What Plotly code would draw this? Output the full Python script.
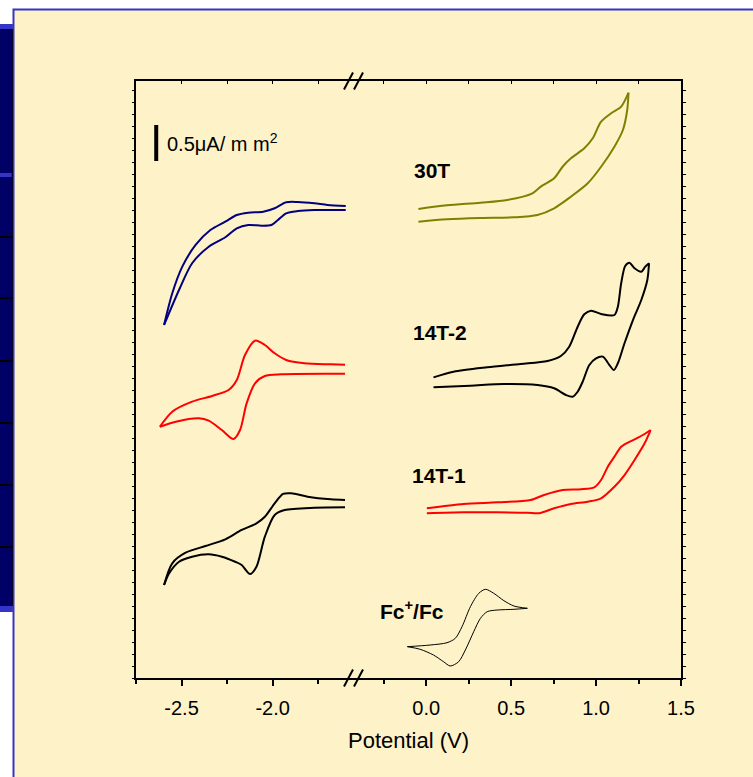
import plotly.graph_objects as go

# ---------------- data (potential in V, current in uA/mm^2 incl. vertical offset) -------------
# left panel (reduction region)
blue_a_x = [-2.596, -2.551, -2.496, -2.423, -2.342, -2.260, -2.197, -2.134, -2.052, -1.989, -1.926, -1.862, -1.771, -1.699, -1.599]
blue_a_y = [4.903, 5.343, 5.713, 6.014, 6.222, 6.338, 6.431, 6.463, 6.476, 6.524, 6.607, 6.611, 6.593, 6.569, 6.556]
blue_b_x = [-2.596, -2.514, -2.442, -2.351, -2.260, -2.197, -2.134, -2.061, -2.007, -1.971, -1.926, -1.862, -1.771, -1.599]
blue_b_y = [4.903, 5.389, 5.760, 5.990, 6.121, 6.246, 6.292, 6.282, 6.292, 6.361, 6.454, 6.486, 6.500, 6.500]

redL_a_x = [-2.619, -2.551, -2.442, -2.333, -2.242, -2.197, -2.152, -2.097, -2.043, -1.989, -1.926, -1.826, -1.681, -1.603]
redL_a_y = [3.490, 3.699, 3.838, 3.917, 4.000, 4.139, 4.486, 4.685, 4.625, 4.510, 4.417, 4.371, 4.357, 4.351]
redL_b_x = [-2.619, -2.532, -2.405, -2.351, -2.279, -2.215, -2.179, -2.143, -2.097, -2.043, -1.953, -1.681, -1.603]
redL_b_y = [3.490, 3.560, 3.607, 3.574, 3.444, 3.319, 3.444, 3.815, 4.093, 4.194, 4.218, 4.226, 4.226]

blkL_a_x = [-2.596, -2.551, -2.478, -2.369, -2.260, -2.170, -2.089, -2.043, -1.989, -1.943, -1.898, -1.808, -1.681, -1.603]
blkL_a_y = [1.292, 1.593, 1.740, 1.833, 1.926, 2.056, 2.149, 2.240, 2.426, 2.556, 2.565, 2.518, 2.482, 2.472]
blkL_b_x = [-2.596, -2.568, -2.514, -2.442, -2.351, -2.279, -2.206, -2.170, -2.124, -2.089, -2.043, -1.989, -1.934, -1.771, -1.603]
blkL_b_y = [1.292, 1.454, 1.615, 1.685, 1.718, 1.685, 1.615, 1.569, 1.444, 1.546, 1.963, 2.264, 2.333, 2.365, 2.371]

# right panel (oxidation region)
t30_a_x = [-0.0456, 0.1225, 0.3195, 0.4775, 0.6254, 0.6746, 0.7533, 0.8030, 0.8521, 0.9308, 0.9805, 1.0296, 1.0888, 1.1479, 1.1911]
t30_a_y = [6.514, 6.565, 6.601, 6.639, 6.732, 6.824, 6.940, 7.101, 7.218, 7.357, 7.496, 7.726, 7.843, 7.935, 8.129]
t30_b_x = [1.1911, 1.1834, 1.158, 1.108, 1.0296, 0.951, 0.8521, 0.7533, 0.655, 0.5166, 0.3195, 0.1225, -0.0456]
t30_b_y = [8.129, 7.889, 7.611, 7.379, 7.101, 6.871, 6.685, 6.524, 6.431, 6.399, 6.389, 6.371, 6.338]

t142_a_x = [0.0432, 0.1615, 0.3592, 0.5562, 0.7142, 0.7929, 0.8420, 0.8917, 0.9308, 0.9704, 1.0296, 1.1083, 1.1284, 1.1479, 1.1716, 1.1970, 1.2266, 1.2663, 1.2899, 1.3118]
t142_a_y = [4.176, 4.254, 4.315, 4.361, 4.403, 4.472, 4.601, 4.879, 5.051, 5.101, 5.056, 5.042, 5.157, 5.482, 5.722, 5.768, 5.690, 5.643, 5.713, 5.760]
t142_b_x = [1.3118, 1.3018, 1.2663, 1.2172, 1.1675, 1.1284, 1.1047, 1.0787, 1.0396, 1.0000, 0.9604, 0.9213, 0.8917, 0.8621, 0.8225, 0.7533, 0.6550, 0.4574, 0.2604, 0.0432]
t142_b_y = [5.760, 5.528, 5.250, 4.972, 4.649, 4.371, 4.278, 4.347, 4.463, 4.440, 4.347, 4.115, 3.976, 3.907, 3.931, 4.024, 4.069, 4.083, 4.060, 4.038]

t141_a_x = [0.0041, 0.2207, 0.4183, 0.6154, 0.6941, 0.8030, 0.9112, 0.9899, 1.0296, 1.0692, 1.1083, 1.1479, 1.2266, 1.2858, 1.3213]
t141_a_y = [2.357, 2.417, 2.440, 2.472, 2.542, 2.611, 2.621, 2.649, 2.750, 2.935, 3.074, 3.213, 3.315, 3.389, 3.444]
t141_b_x = [1.3213, 1.2858, 1.2266, 1.1675, 1.1083, 1.0296, 0.9509, 0.8521, 0.7533, 0.6645, 0.5959, 0.4183, 0.2207, 0.0041]
t141_b_y = [3.444, 3.260, 3.028, 2.819, 2.657, 2.496, 2.449, 2.417, 2.357, 2.288, 2.296, 2.301, 2.301, 2.288]

fc_a_x = [-0.1107, 0.0237, 0.1225, 0.1716, 0.2112, 0.2604, 0.3095, 0.3491, 0.3982, 0.4574, 0.5166, 0.5959]
fc_a_y = [0.435, 0.458, 0.490, 0.551, 0.713, 0.990, 1.176, 1.232, 1.176, 1.074, 1.000, 0.968]
fc_b_x = [0.5959, 0.5166, 0.4183, 0.3592, 0.3195, 0.2799, 0.2308, 0.1911, 0.1420, 0.1024, 0.0432, -0.0355, -0.1107]
fc_b_y = [0.968, 0.954, 0.944, 0.921, 0.829, 0.643, 0.389, 0.226, 0.167, 0.226, 0.319, 0.399, 0.435]

# scale bar: 0.5 uA/mm^2
scale_x = [-2.639, -2.639]
scale_y = [7.181, 7.681]

left_ticks = [-2.5, -2.0]
left_ticktext = ["-2.5", "-2.0"]
left_minor = [-2.75, -2.25, -1.75]
right_ticks = [0.0, 0.5, 1.0, 1.5]
right_ticktext = ["0.0", "0.5", "1.0", "1.5"]
right_minor = [-0.25, 0.25, 0.75, 1.25]

curve_labels = ["30T", "14T-2", "14T-1", "Fc<sup>+</sup>/Fc"]

# ---------------- figure ----------------
W, H = 753, 777
ML, MR, MT, MB = 136, 72, 81, 99
PW, PH = W - ML - MR, H - MT - MB
BREAK = 0.3996
XL_RANGE = [-2.75, -1.555]
XR_RANGE = [-0.426, 1.5]
Y_RANGE = [0, 8.2917]
FONT = "Liberation Sans, Arial, sans-serif"


def px(p):
    return (p - ML) / PW


def py(p):
    return (H - MB - p) / PH


fig = go.Figure()


def add_curve(xa, ya, xb, yb, color, width, xaxis, yaxis):
    for xs, ys in ((xa, ya), (xb, yb)):
        fig.add_trace(go.Scatter(x=xs, y=ys, mode="lines", xaxis=xaxis, yaxis=yaxis,
                                 line=dict(color=color, width=width, shape="spline", smoothing=0.8),
                                 hoverinfo="skip", showlegend=False))


add_curve(blue_a_x, blue_a_y, blue_b_x, blue_b_y, "#000080", 2, "x", "y")
add_curve(redL_a_x, redL_a_y, redL_b_x, redL_b_y, "#FF0000", 2, "x", "y")
add_curve(blkL_a_x, blkL_a_y, blkL_b_x, blkL_b_y, "#000000", 2, "x", "y")
add_curve(t30_a_x, t30_a_y, t30_b_x, t30_b_y, "#808000", 2, "x4", "y2")
add_curve(t142_a_x, t142_a_y, t142_b_x, t142_b_y, "#000000", 2, "x2", "y2")
add_curve(t141_a_x, t141_a_y, t141_b_x, t141_b_y, "#FF0000", 2, "x2", "y2")
add_curve(fc_a_x, fc_a_y, fc_b_x, fc_b_y, "#000000", 1, "x2", "y2")

fig.add_trace(go.Scatter(x=scale_x, y=scale_y, mode="lines", xaxis="x3", yaxis="y",
                         line=dict(color="black", width=4), hoverinfo="skip", showlegend=False))

axis_common = dict(showline=True, linecolor="black", linewidth=1.5, showgrid=False, zeroline=False,
                   tickcolor="black", tickfont=dict(family=FONT, size=20, color="black"))

fig.update_layout(
    width=W, height=H,
    margin=dict(l=ML, r=MR, t=MT, b=MB, pad=0),
    paper_bgcolor="white", plot_bgcolor="rgba(0,0,0,0)",
    showlegend=False,
    xaxis=dict(domain=[0, BREAK], range=XL_RANGE, anchor="y", tickmode="array",
               tickvals=left_ticks, ticktext=left_ticktext, ticks="outside", ticklen=6, tickwidth=1.5,
               minor=dict(tickmode="array", tickvals=left_minor, ticks="outside", ticklen=4, tickwidth=1.5),
               ticklabelstandoff=5, **axis_common),
    xaxis2=dict(domain=[BREAK, 1], range=XR_RANGE, anchor="y2", tickmode="array",
                tickvals=right_ticks, ticktext=right_ticktext, ticks="outside", ticklen=6, tickwidth=1.5,
                minor=dict(tickmode="array", tickvals=right_minor, ticks="outside", ticklen=4, tickwidth=1.5),
                ticklabelstandoff=5, **axis_common),
    xaxis3=dict(overlaying="x", side="top", anchor="y", range=XL_RANGE, tickmode="array",
                tickvals=left_ticks + left_minor, ticks="inside", ticklen=3, tickwidth=1,
                showticklabels=False, **axis_common),
    xaxis4=dict(overlaying="x2", side="top", anchor="y2", range=XR_RANGE, tickmode="array",
                tickvals=right_ticks + right_minor, ticks="inside", ticklen=3, tickwidth=1,
                showticklabels=False, **axis_common),
    yaxis=dict(domain=[0, 1], range=Y_RANGE, anchor="x", side="left", ticks="outside", ticklen=2,
               tickwidth=1, dtick=1 / 6, tick0=0, showticklabels=False, **axis_common),
    yaxis2=dict(domain=[0, 1], range=Y_RANGE, anchor="x2", side="right", ticks="outside", ticklen=3,
                tickwidth=1, dtick=1 / 6, tick0=0, showticklabels=False, **axis_common),
)

# ---------------- decoration (slide background) ----------------
shapes = []
shapes.append(dict(type="rect", xref="paper", yref="paper", x0=px(13.5), x1=px(800), y0=py(9.5), y1=py(820),
                   fillcolor="#FEF2C8", line=dict(color="#3434C8", width=2), layer="below"))
shapes.append(dict(type="rect", xref="paper", yref="paper", x0=px(-5), x1=px(12.5), y0=py(24), y1=py(612),
                   fillcolor="#000066", line=dict(width=0), layer="below"))
for y0, y1 in ((24, 29), (173, 177), (606, 612)):
    shapes.append(dict(type="rect", xref="paper", yref="paper", x0=px(-5), x1=px(12.5), y0=py(y0), y1=py(y1),
                       fillcolor="#3434C8", line=dict(width=0), layer="below"))
for yy in (237, 298, 361, 423, 485, 547):
    shapes.append(dict(type="line", xref="paper", yref="paper", x0=px(-5), x1=px(12.5), y0=py(yy), y1=py(yy),
                       line=dict(color="black", width=2), layer="below"))
shapes.append(dict(type="line", xref="paper", yref="paper", x0=px(12.3), x1=px(12.3), y0=py(29), y1=py(606),
                   line=dict(color="#000022", width=1.2), layer="below"))
# axis break marks
for yb in (81, 678):
    for xs in (344, 354):
        shapes.append(dict(type="line", xref="paper", yref="paper", x0=px(xs), x1=px(xs + 9),
                           y0=py(yb + 8.5), y1=py(yb - 8.5), line=dict(color="black", width=2)))
fig.update_layout(shapes=shapes)

# ---------------- text ----------------
ann = []
ann.append(dict(text="Potential (V)", xref="paper", yref="paper", x=0.5, y=py(740), showarrow=False,
                xanchor="center", yanchor="middle", font=dict(family=FONT, size=22, color="black")))
label_pos = [(432, 170), (440, 332), (439, 475), (412, 610)]
for txt, (lx, ly) in zip(curve_labels, label_pos):
    ann.append(dict(text="<b>" + txt + "</b>", xref="paper", yref="paper", x=px(lx), y=py(ly), showarrow=False,
                    xanchor="center", yanchor="middle", font=dict(family=FONT, size=21, color="black")))
ann.append(dict(text="0.5\u03bcA/ m m<sup>2</sup>", xref="paper", yref="paper", x=px(165), y=py(143),
                showarrow=False, xanchor="left", yanchor="middle", font=dict(family=FONT, size=20, color="black")))
fig.update_layout(annotations=ann)

fig.write_html("out.html", config={"displayModeBar": False},
               post_script="document.body.style.margin='0px';")
